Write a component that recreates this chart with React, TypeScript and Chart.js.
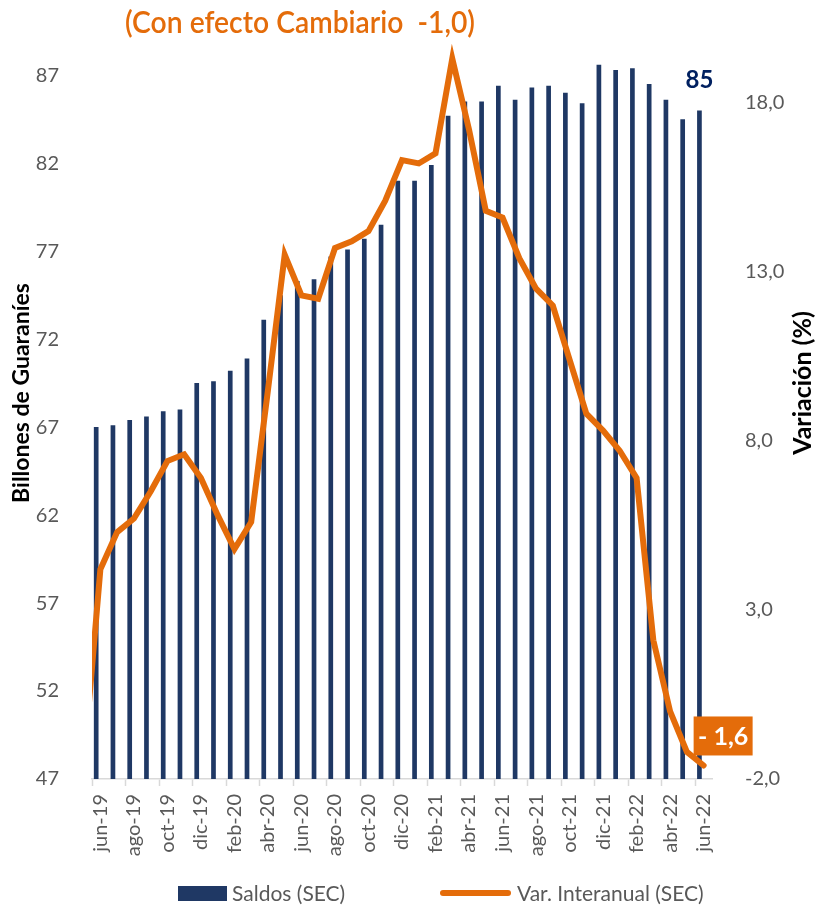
import React, { useEffect, useRef } from 'react';
import { Chart, registerables } from 'chart.js';

Chart.register(...registerables);

const months = [
  'jun-19', 'jul-19', 'ago-19', 'sep-19', 'oct-19', 'nov-19', 'dic-19', 'ene-20', 'feb-20', 'mar-20',
  'abr-20', 'may-20', 'jun-20', 'jul-20', 'ago-20', 'sep-20', 'oct-20', 'nov-20', 'dic-20', 'ene-21',
  'feb-21', 'mar-21', 'abr-21', 'may-21', 'jun-21', 'jul-21', 'ago-21', 'sep-21', 'oct-21', 'nov-21',
  'dic-21', 'ene-22', 'feb-22', 'mar-22', 'abr-22', 'may-22', 'jun-22',
];

const saldos = [
  67.0, 67.1, 67.4, 67.6, 67.9, 68.0, 69.5, 69.6, 70.2, 70.9,
  73.1, 74.5, 75.3, 75.4, 76.7, 77.1, 77.7, 78.5, 81.0, 81.0,
  81.9, 84.7, 85.5, 85.5, 86.4, 85.6, 86.3, 86.4, 86.0, 85.4,
  87.6, 87.3, 87.4, 86.5, 85.6, 84.5, 85.0,
];

const variacion = [
  4.2, 5.3, 5.7, 6.5, 7.4, 7.6, 6.9, 5.8, 4.8, 5.6,
  9.5, 13.5, 12.3, 12.2, 13.7, 13.9, 14.2, 15.1, 16.3, 16.2,
  16.5, 19.3, 17.2, 14.8, 14.6, 13.4, 12.5, 12.0, 10.4, 8.8,
  8.3, 7.7, 6.9, 2.1, 0.0, -1.2, -1.6,
];

// previous month (may-19), lies outside the visible range and is clipped
const variacionPrev = -1.6;

const leftTicks = [47, 52, 57, 62, 67, 72, 77, 82, 87];
const rightTicks = [-2, 3, 8, 13, 18];

const titleText = '(Con efecto Cambiario  -1,0)';
const leftTitle = 'Billones de Guaraníes';
const rightTitle = 'Variación (%)';
const legendLabels = ['Saldos (SEC)', 'Var. Interanual (SEC)'];

const NAVY = '#1F3864';
const ORANGE = '#E46C0A';
const GRAY = '#595959';
const FONT = 'Lato, "Open Sans", sans-serif';

const fmt = (v: number) => v.toFixed(1).replace('.', ',');

const decorPlugin = {
  id: 'decor',
  afterDraw(chart: any) {
    const ctx = chart.ctx as CanvasRenderingContext2D;
    ctx.save();

    // Title (horizontally condensed like Gill Sans)
    ctx.font = `600 31px ${FONT}`;
    ctx.fillStyle = ORANGE;
    ctx.textBaseline = 'middle';
    ctx.textAlign = 'left';
    const tw = ctx.measureText(titleText).width;
    const targetW = 350;
    ctx.save();
    ctx.translate(125, 23);
    ctx.scale(targetW / tw, 1);
    ctx.fillText(titleText, 0, 0);
    ctx.restore();

    // Left axis title
    ctx.font = `bold 23px ${FONT}`;
    ctx.fillStyle = '#000000';
    ctx.textAlign = 'center';
    ctx.textBaseline = 'middle';
    ctx.save();
    ctx.translate(22, 393);
    ctx.rotate(-Math.PI / 2);
    ctx.fillText(leftTitle, 0, 0);
    ctx.restore();

    // Right axis title
    ctx.font = `bold 25px ${FONT}`;
    ctx.save();
    ctx.translate(803, 383);
    ctx.rotate(-Math.PI / 2);
    ctx.fillText(rightTitle, 0, 0);
    ctx.restore();

    // Last bar label
    const barMeta = chart.getDatasetMeta(0);
    const lastBar = barMeta.data[barMeta.data.length - 1];
    if (lastBar) {
      ctx.font = `bold 24px ${FONT}`;
      ctx.fillStyle = '#002060';
      ctx.textAlign = 'center';
      ctx.textBaseline = 'middle';
      ctx.fillText(String(Math.round(saldos[saldos.length - 1])), lastBar.x, lastBar.y - 30);
    }

    // Last line label in orange box
    const lineMeta = chart.getDatasetMeta(1);
    const lastPt = lineMeta.data[lineMeta.data.length - 1];
    if (lastPt) {
      const bx = lastPt.x - 10;
      const by = lastPt.y - 49;
      ctx.fillStyle = ORANGE;
      ctx.fillRect(bx, by, 59, 39);
      ctx.font = `bold 25px ${FONT}`;
      ctx.fillStyle = '#FFFFFF';
      ctx.textAlign = 'center';
      ctx.textBaseline = 'middle';
      ctx.fillText(fmt(variacion[variacion.length - 1]).replace('-', '- '), bx + 29.5, by + 20);
    }

    // Legend
    const ly = 893;
    ctx.fillStyle = NAVY;
    ctx.fillRect(178, ly - 7, 49, 15);
    ctx.font = `21px ${FONT}`;
    ctx.fillStyle = GRAY;
    ctx.textAlign = 'left';
    ctx.textBaseline = 'middle';
    ctx.fillText(legendLabels[0], 232, ly + 1);
    ctx.strokeStyle = ORANGE;
    ctx.lineWidth = 6;
    ctx.lineCap = 'round';
    ctx.beginPath();
    ctx.moveTo(443, ly);
    ctx.lineTo(508, ly);
    ctx.stroke();
    ctx.fillText(legendLabels[1], 517, ly + 1);

    ctx.restore();
  },
};

export default function App() {
  const ref = useRef<HTMLCanvasElement | null>(null);

  useEffect(() => {
    document.body.style.margin = '0';
    if (!ref.current) return;
    const chart = new Chart(ref.current, {
      type: 'bar',
      data: {
        labels: months,
        datasets: [
          {
            type: 'bar',
            label: legendLabels[0],
            data: saldos,
            backgroundColor: NAVY,
            borderWidth: 0,
            barPercentage: 0.56,
            categoryPercentage: 1.0,
            xAxisID: 'x',
            yAxisID: 'y',
            order: 2,
          } as any,
          {
            type: 'line',
            label: legendLabels[1],
            data: [{ x: -1, y: variacionPrev }, ...variacion.map((v, i) => ({ x: i, y: v }))],
            borderColor: ORANGE,
            backgroundColor: ORANGE,
            borderWidth: 6,
            pointRadius: 0,
            pointHoverRadius: 0,
            tension: 0,
            borderCapStyle: 'round',
            xAxisID: 'xLine',
            yAxisID: 'y2',
            order: 1,
          } as any,
        ],
      },
      options: {
        responsive: false,
        animation: false,
        devicePixelRatio: 1,
        layout: { padding: { top: 40, left: 0, right: 0, bottom: 0 } },
        plugins: {
          legend: { display: false },
          tooltip: { enabled: false },
          title: { display: false },
        },
        scales: {
          x: {
            type: 'category',
            position: 'bottom',
            offset: true,
            grid: {
              display: true,
              drawOnChartArea: false,
              offset: true,
              tickLength: 7,
              tickWidth: 1.5,
              tickColor: (c: any) => (c.index !== undefined && c.index % 2 === 0 ? '#D9D9D9' : 'rgba(0,0,0,0)'),
            },
            border: { display: true, color: '#D9D9D9', width: 1.5 },
            ticks: {
              autoSkip: false,
              minRotation: 90,
              maxRotation: 90,
              padding: 8,
              color: GRAY,
              font: { family: FONT, size: 20 },
              callback: (_v: any, i: number) => (i % 2 === 0 ? months[i] : ''),
            },
            afterFit: (s: any) => { s.height = 134; },
          },
          xLine: {
            type: 'linear',
            axis: 'x',
            display: false,
            offset: false,
            grid: { offset: false },
            min: -0.5,
            max: months.length - 0.5,
          },
          y: {
            type: 'linear',
            position: 'left',
            min: 47,
            max: 89,
            grid: { display: false },
            border: { display: false },
            afterBuildTicks: (s: any) => { s.ticks = leftTicks.map((v) => ({ value: v })); },
            ticks: {
              padding: 25,
              color: GRAY,
              font: { family: FONT, size: 20 },
              callback: (v: any) => String(v),
            },
            afterFit: (s: any) => { s.width = 92; },
          },
          y2: {
            type: 'linear',
            position: 'right',
            min: -2,
            max: 19.85,
            grid: { display: false },
            border: { display: false },
            afterBuildTicks: (s: any) => { s.ticks = rightTicks.map((v) => ({ value: v })); },
            ticks: {
              padding: 25,
              color: GRAY,
              font: { family: FONT, size: 20 },
              callback: (v: any) => fmt(Number(v)),
            },
            afterFit: (s: any) => { s.width = 105; },
          },
        },
      } as any,
      plugins: [decorPlugin],
    });
    return () => chart.destroy();
  }, []);

  return (
    <div style={{ width: 817, height: 913 }}>
      <canvas ref={ref} width={817} height={913} style={{ display: 'block', width: 817, height: 913 }} />
    </div>
  );
}
